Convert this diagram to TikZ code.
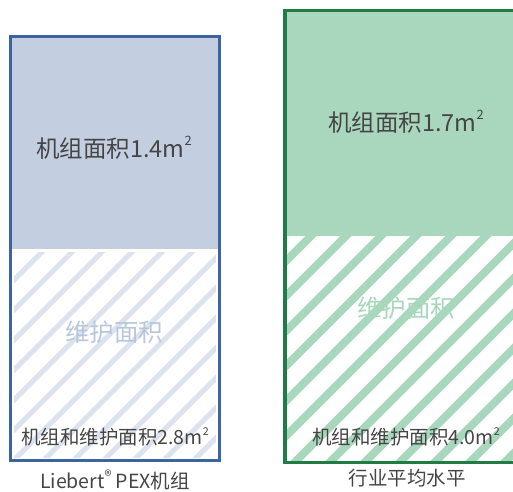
\documentclass[tikz,border=0pt]{standalone}
\usepackage{fontspec}
\setmainfont{Noto Sans CJK SC}
\definecolor{bborder}{HTML}{3B64A0}
\definecolor{bfill}{HTML}{C3CFE1}
\definecolor{bstripe}{HTML}{DCE3EE}
\definecolor{btext}{HTML}{B8C6DC}
\definecolor{gborder}{HTML}{1F7D44}
\definecolor{gfill}{HTML}{A8D7BD}
\definecolor{txt}{HTML}{454545}
\newcommand\sqm{m\raisebox{0.5em}{\scalebox{0.55}{2}}}
\tikzset{
  big/.style={font=\fontsize{23.5}{28}\selectfont, text=txt, inner sep=0pt},
  mid/.style={font=\fontsize{24.5}{28}\selectfont, inner sep=0pt},
  small/.style={font=\fontsize{19.5}{23}\selectfont, text=txt, inner sep=0pt},
  lbl/.style={font=\fontsize{19.5}{23}\selectfont, text=txt, inner sep=0pt},
}
\begin{document}
\begin{tikzpicture}[x=1pt,y=-1pt]
\useasboundingbox (0,0) rectangle (513,491);
% ---- left box ----
\fill[bfill] (10.5,36.5) rectangle (219.5,249);
\begin{scope}
\clip (14,252) rectangle (216,457);
\foreach \i in {-10,...,10} {
  \draw[bstripe, line width=5pt] ({14+\i*30},460) -- ({14+\i*30+215},245);
}
\end{scope}
\draw[bborder, line width=3pt] (10.5,36.5) rectangle (219.5,460.5);
\node[big] (a1) at (114,148) {机组面积1.4\sqm};
\node[mid, text=btext] (a2) at (114,332) {维护面积};
\node[small] (a3) at (115,437) {机组和维护面积2.8\sqm};
\node[lbl] (a4) at (115,480) {Liebert\raisebox{0.4em}{\scalebox{0.75}{®}} PEX机组};
% ---- right box ----
\fill[gfill] (285,10.5) rectangle (520,235.5);
\begin{scope}
\clip (285,235.5) rectangle (520,462);
\foreach \i in {-10,...,10} {
  \draw[gfill, line width=8pt] ({287+\i*35},470) -- ({287+\i*35+240},230);
}
\end{scope}
\draw[gborder, line width=3.2pt] (530,10.5) -- (285,10.5) -- (285,462.5) -- (530,462.5);
\node[big] (b1) at (406,122) {机组面积1.7\sqm};
\node[mid, text=gfill] (b2) at (406,308) {维护面积};
\node[small] (b3) at (406,437) {机组和维护面积4.0\sqm};
\node[lbl] (b4) at (407,478) {行业平均水平};
\end{tikzpicture}
\end{document}
